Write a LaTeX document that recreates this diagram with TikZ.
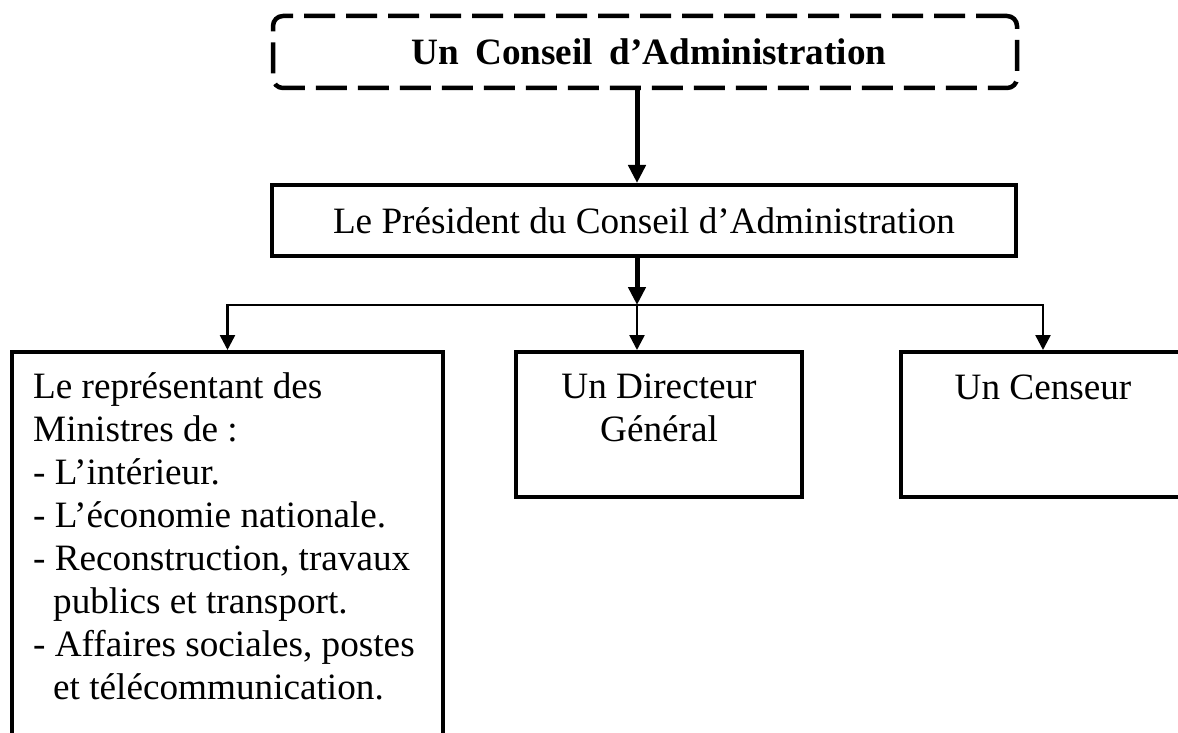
\documentclass[tikz,border=0pt]{standalone}
\usepackage{fontspec}
\setmainfont{Liberation Serif}
\usetikzlibrary{arrows.meta}
\begin{document}
\begin{tikzpicture}[x=1pt,y=-1pt,
  box/.style={draw, line width=4pt, inner sep=0pt},
  txt/.style={font=\fontsize{37.2}{43}\selectfont, inner sep=0pt},
  dashbox/.style={draw, line width=4.5pt, dash pattern=on 31pt off 11pt,
    rounded corners=10pt, inner sep=0pt},
  thinarrow/.style={line width=2.5pt, -{Triangle[length=15pt,width=15pt]}},
  thickarrow/.style={line width=5pt, -{Triangle[length=18pt,width=17pt]}}
]
\clip (0,0) rectangle (1178,733);
\fill[white] (0,0) rectangle (1178,733);

% top dashed box
\node[dashbox, minimum width=744pt, minimum height=72pt,
      font=\fontsize{37.2}{43}\selectfont\bfseries] (ca) at (645,52)
      {\hspace*{8pt}Un\hspace{7pt} Conseil\hspace{7pt} d’Administration};

% president
\node[box, minimum width=744pt, minimum height=71pt, txt] (pres) at (644,220.5)
      {Le Président du Conseil d’Administration};

% lower boxes
\node[box, minimum width=431pt, minimum height=428pt] (rep) at (227.5,566) {};
\node[box, minimum width=286pt, minimum height=145pt] (dg) at (659,424.5) {};
\node[box, minimum width=284pt, minimum height=145pt] (cens) at (1043,424.5) {};

% texts of lower boxes
\node[txt, anchor=base west] (rept) at (33,398)
  {\parbox[t]{405pt}{\raggedright
   Le représentant des\\
   Ministres de :\\
   - L’intérieur.\\
   - L’économie nationale.\\
   - Reconstruction, travaux\\
   \hspace*{20pt}publics et transport.\\
   - Affaires sociales, postes\\
   \hspace*{20pt}et télécommunication.}};
\node[txt, anchor=base] (dgt) at (659,398)
  {\parbox[t]{280pt}{\centering Un Directeur\\Général}};
\node[txt, anchor=base] (censt) at (1043,399) {Un Censeur};

% connectors
\coordinate (j) at (637,305);
\draw[thickarrow] (ca.south -| j) -- (pres.north -| j);
\draw[thickarrow] (pres.south -| j) -- (j);
\draw[thinarrow] (j) -| (rep.north);
\draw[thinarrow] (j) -| (cens.north);
\draw[thinarrow] (j) -- (dg.north -| j);
\end{tikzpicture}
\end{document}
